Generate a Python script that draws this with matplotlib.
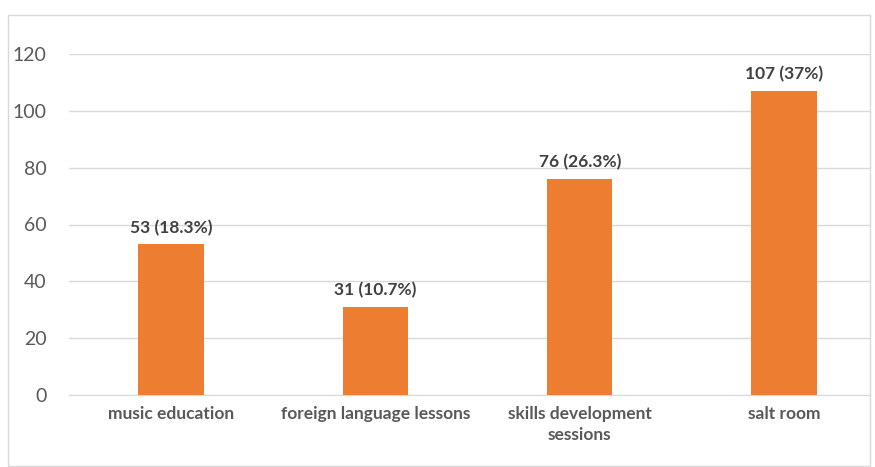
import matplotlib.pyplot as plt
from matplotlib.patches import Rectangle

# Données
categories = ["music education", "foreign language lessons",
              "skills development\nsessions", "salt room"]
counts = [53, 31, 76, 107]
percents = ["18.3%", "10.7%", "26.3%", "37%"]

W, H = 875, 467
fig = plt.figure(figsize=(W / 100, H / 100), dpi=100)

# Cadre gris autour du graphique
fig.patches.append(Rectangle((8 / W, 1 - 466 / H), 862 / W, 451 / H,
                             transform=fig.transFigure, fill=False,
                             edgecolor="#d9d9d9", linewidth=1))

# Axes (positions en pixels)
left, right, top, bottom = 69, 870, 54, 395
ax = fig.add_axes([left / W, 1 - bottom / H, (right - left) / W, (bottom - top) / H])

x = range(len(categories))
ax.bar(x, counts, width=0.32, color="#ED7D31", zorder=3)

for xi, c, p in zip(x, counts, percents):
    ax.text(xi, c + 3, f"{c} ({p})", ha="center", va="bottom",
            fontsize=12.5, fontweight="bold", color="#404040", family="Lato")

ax.set_ylim(0, 120)
ax.set_xlim(-0.5, 3 + (right - 784) / 204.3)
ax.set_yticks(range(0, 121, 20))
ax.yaxis.grid(True, color="#d9d9d9", linewidth=1, zorder=0)
ax.set_xticks(list(x))
ax.set_xticklabels(categories, fontsize=12.5, fontweight="bold", color="#595959",
                   family="Lato", linespacing=1.35)
for lab in ax.get_yticklabels():
    lab.set_family("Lato")
ax.tick_params(axis="y", labelsize=14, labelcolor="#595959", length=0, pad=16)
ax.tick_params(axis="x", length=0, pad=8)
for s in ["top", "right", "left"]:
    ax.spines[s].set_visible(False)
ax.spines["bottom"].set_color("#d9d9d9")

plt.savefig("out.png", dpi=100)
